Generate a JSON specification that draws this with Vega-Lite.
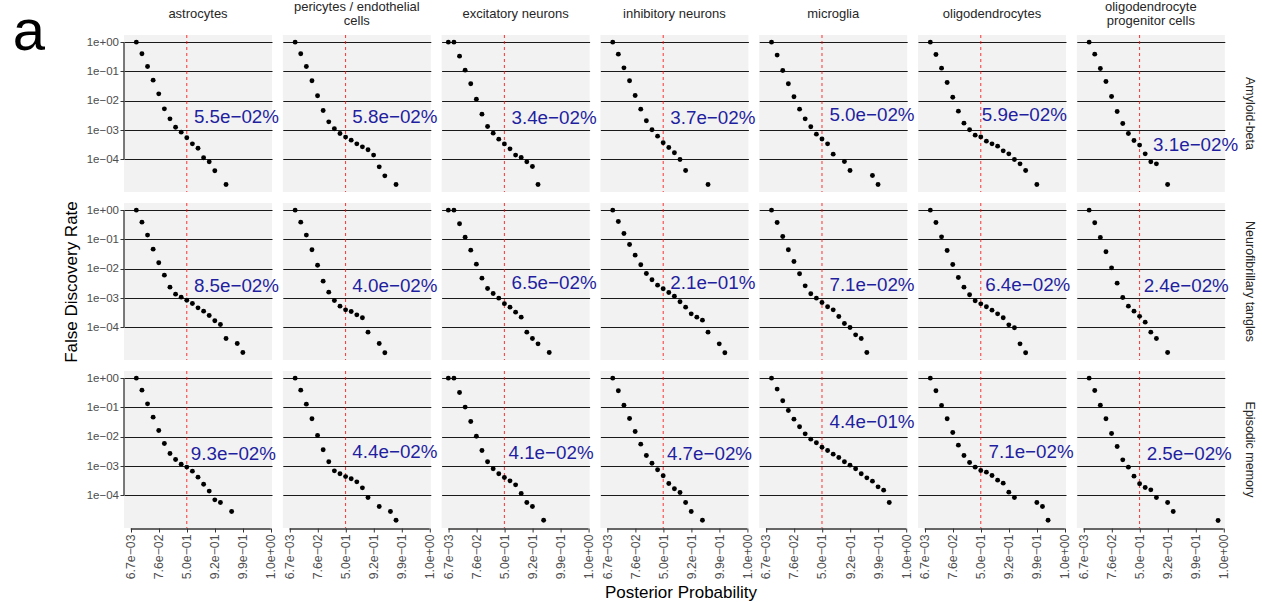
{
"$schema": "https://vega.github.io/schema/vega-lite/v6.json",
"background": "white",
"padding": {"left": 12, "top": 1, "right": 0, "bottom": 0},
"bounds": "flush",
"title": {"text": "a", "orient": "left", "anchor": "end", "angle": 0, "align": "left", "baseline": "top", "fontSize": 58, "fontWeight": "normal", "color": "black", "offset": 18, "dy": 3},
"data": {"values": [
{"kind":"pt","trait":"Amyloid-beta","cell":"astrocytes","lpp":-4.5,"fdr":1},
{"kind":"pt","trait":"Amyloid-beta","cell":"astrocytes","lpp":-4,"fdr":0.4},
{"kind":"pt","trait":"Amyloid-beta","cell":"astrocytes","lpp":-3.5,"fdr":0.148},
{"kind":"pt","trait":"Amyloid-beta","cell":"astrocytes","lpp":-3,"fdr":0.0507},
{"kind":"pt","trait":"Amyloid-beta","cell":"astrocytes","lpp":-2.5,"fdr":0.0173},
{"kind":"pt","trait":"Amyloid-beta","cell":"astrocytes","lpp":-2,"fdr":0.00533},
{"kind":"pt","trait":"Amyloid-beta","cell":"astrocytes","lpp":-1.5,"fdr":0.00243},
{"kind":"pt","trait":"Amyloid-beta","cell":"astrocytes","lpp":-1,"fdr":0.00126},
{"kind":"pt","trait":"Amyloid-beta","cell":"astrocytes","lpp":-0.5,"fdr":0.000855},
{"kind":"pt","trait":"Amyloid-beta","cell":"astrocytes","lpp":0,"fdr":0.000548},
{"kind":"pt","trait":"Amyloid-beta","cell":"astrocytes","lpp":0.5,"fdr":0.000342},
{"kind":"pt","trait":"Amyloid-beta","cell":"astrocytes","lpp":1,"fdr":0.000243},
{"kind":"pt","trait":"Amyloid-beta","cell":"astrocytes","lpp":1.5,"fdr":0.000114},
{"kind":"pt","trait":"Amyloid-beta","cell":"astrocytes","lpp":2,"fdr":0.0000832},
{"kind":"pt","trait":"Amyloid-beta","cell":"astrocytes","lpp":2.5,"fdr":0.0000411},
{"kind":"pt","trait":"Amyloid-beta","cell":"astrocytes","lpp":3.5,"fdr":0.0000141},
{"kind":"pt","trait":"Amyloid-beta","cell":"pericytes / endothelial cells","lpp":-4.5,"fdr":1},
{"kind":"pt","trait":"Amyloid-beta","cell":"pericytes / endothelial cells","lpp":-4,"fdr":0.4},
{"kind":"pt","trait":"Amyloid-beta","cell":"pericytes / endothelial cells","lpp":-3.5,"fdr":0.148},
{"kind":"pt","trait":"Amyloid-beta","cell":"pericytes / endothelial cells","lpp":-3,"fdr":0.0481},
{"kind":"pt","trait":"Amyloid-beta","cell":"pericytes / endothelial cells","lpp":-2.5,"fdr":0.0148},
{"kind":"pt","trait":"Amyloid-beta","cell":"pericytes / endothelial cells","lpp":-2,"fdr":0.00468},
{"kind":"pt","trait":"Amyloid-beta","cell":"pericytes / endothelial cells","lpp":-1.5,"fdr":0.00192},
{"kind":"pt","trait":"Amyloid-beta","cell":"pericytes / endothelial cells","lpp":-1,"fdr":0.00111},
{"kind":"pt","trait":"Amyloid-beta","cell":"pericytes / endothelial cells","lpp":-0.5,"fdr":0.000769},
{"kind":"pt","trait":"Amyloid-beta","cell":"pericytes / endothelial cells","lpp":0,"fdr":0.00058},
{"kind":"pt","trait":"Amyloid-beta","cell":"pericytes / endothelial cells","lpp":0.5,"fdr":0.000456},
{"kind":"pt","trait":"Amyloid-beta","cell":"pericytes / endothelial cells","lpp":1,"fdr":0.000342},
{"kind":"pt","trait":"Amyloid-beta","cell":"pericytes / endothelial cells","lpp":1.5,"fdr":0.00027},
{"kind":"pt","trait":"Amyloid-beta","cell":"pericytes / endothelial cells","lpp":2,"fdr":0.000214},
{"kind":"pt","trait":"Amyloid-beta","cell":"pericytes / endothelial cells","lpp":2.5,"fdr":0.000141},
{"kind":"pt","trait":"Amyloid-beta","cell":"pericytes / endothelial cells","lpp":3,"fdr":0.0000562},
{"kind":"pt","trait":"Amyloid-beta","cell":"pericytes / endothelial cells","lpp":3.5,"fdr":0.0000277},
{"kind":"pt","trait":"Amyloid-beta","cell":"pericytes / endothelial cells","lpp":4.5,"fdr":0.0000141},
{"kind":"pt","trait":"Amyloid-beta","cell":"excitatory neurons","lpp":-5,"fdr":1},
{"kind":"pt","trait":"Amyloid-beta","cell":"excitatory neurons","lpp":-4.5,"fdr":1},
{"kind":"pt","trait":"Amyloid-beta","cell":"excitatory neurons","lpp":-4,"fdr":0.333},
{"kind":"pt","trait":"Amyloid-beta","cell":"excitatory neurons","lpp":-3.5,"fdr":0.111},
{"kind":"pt","trait":"Amyloid-beta","cell":"excitatory neurons","lpp":-3,"fdr":0.038},
{"kind":"pt","trait":"Amyloid-beta","cell":"excitatory neurons","lpp":-2.5,"fdr":0.0114},
{"kind":"pt","trait":"Amyloid-beta","cell":"excitatory neurons","lpp":-2,"fdr":0.00351},
{"kind":"pt","trait":"Amyloid-beta","cell":"excitatory neurons","lpp":-1.5,"fdr":0.00133},
{"kind":"pt","trait":"Amyloid-beta","cell":"excitatory neurons","lpp":-1,"fdr":0.000791},
{"kind":"pt","trait":"Amyloid-beta","cell":"excitatory neurons","lpp":-0.5,"fdr":0.000493},
{"kind":"pt","trait":"Amyloid-beta","cell":"excitatory neurons","lpp":0,"fdr":0.00034},
{"kind":"pt","trait":"Amyloid-beta","cell":"excitatory neurons","lpp":0.5,"fdr":0.000231},
{"kind":"pt","trait":"Amyloid-beta","cell":"excitatory neurons","lpp":1,"fdr":0.000141},
{"kind":"pt","trait":"Amyloid-beta","cell":"excitatory neurons","lpp":1.5,"fdr":0.000117},
{"kind":"pt","trait":"Amyloid-beta","cell":"excitatory neurons","lpp":2,"fdr":0.0000832},
{"kind":"pt","trait":"Amyloid-beta","cell":"excitatory neurons","lpp":2.5,"fdr":0.0000577},
{"kind":"pt","trait":"Amyloid-beta","cell":"excitatory neurons","lpp":3,"fdr":0.0000141},
{"kind":"pt","trait":"Amyloid-beta","cell":"inhibitory neurons","lpp":-4.5,"fdr":1},
{"kind":"pt","trait":"Amyloid-beta","cell":"inhibitory neurons","lpp":-4,"fdr":0.39},
{"kind":"pt","trait":"Amyloid-beta","cell":"inhibitory neurons","lpp":-3.5,"fdr":0.133},
{"kind":"pt","trait":"Amyloid-beta","cell":"inhibitory neurons","lpp":-3,"fdr":0.0481},
{"kind":"pt","trait":"Amyloid-beta","cell":"inhibitory neurons","lpp":-2.5,"fdr":0.0152},
{"kind":"pt","trait":"Amyloid-beta","cell":"inhibitory neurons","lpp":-2,"fdr":0.0052},
{"kind":"pt","trait":"Amyloid-beta","cell":"inhibitory neurons","lpp":-1.5,"fdr":0.00208},
{"kind":"pt","trait":"Amyloid-beta","cell":"inhibitory neurons","lpp":-1,"fdr":0.00103},
{"kind":"pt","trait":"Amyloid-beta","cell":"inhibitory neurons","lpp":-0.5,"fdr":0.000624},
{"kind":"pt","trait":"Amyloid-beta","cell":"inhibitory neurons","lpp":0,"fdr":0.00037},
{"kind":"pt","trait":"Amyloid-beta","cell":"inhibitory neurons","lpp":0.5,"fdr":0.000256},
{"kind":"pt","trait":"Amyloid-beta","cell":"inhibitory neurons","lpp":1,"fdr":0.000169},
{"kind":"pt","trait":"Amyloid-beta","cell":"inhibitory neurons","lpp":1.5,"fdr":0.0001},
{"kind":"pt","trait":"Amyloid-beta","cell":"inhibitory neurons","lpp":2,"fdr":0.0000422},
{"kind":"pt","trait":"Amyloid-beta","cell":"inhibitory neurons","lpp":4,"fdr":0.0000141},
{"kind":"pt","trait":"Amyloid-beta","cell":"microglia","lpp":-4.5,"fdr":1},
{"kind":"pt","trait":"Amyloid-beta","cell":"microglia","lpp":-4,"fdr":0.361},
{"kind":"pt","trait":"Amyloid-beta","cell":"microglia","lpp":-3.5,"fdr":0.108},
{"kind":"pt","trait":"Amyloid-beta","cell":"microglia","lpp":-3,"fdr":0.038},
{"kind":"pt","trait":"Amyloid-beta","cell":"microglia","lpp":-2.5,"fdr":0.0137},
{"kind":"pt","trait":"Amyloid-beta","cell":"microglia","lpp":-2,"fdr":0.0052},
{"kind":"pt","trait":"Amyloid-beta","cell":"microglia","lpp":-1.5,"fdr":0.00243},
{"kind":"pt","trait":"Amyloid-beta","cell":"microglia","lpp":-1,"fdr":0.0013},
{"kind":"pt","trait":"Amyloid-beta","cell":"microglia","lpp":-0.5,"fdr":0.000731},
{"kind":"pt","trait":"Amyloid-beta","cell":"microglia","lpp":0,"fdr":0.0005},
{"kind":"pt","trait":"Amyloid-beta","cell":"microglia","lpp":0.5,"fdr":0.000342},
{"kind":"pt","trait":"Amyloid-beta","cell":"microglia","lpp":1,"fdr":0.000152},
{"kind":"pt","trait":"Amyloid-beta","cell":"microglia","lpp":2,"fdr":0.0000855},
{"kind":"pt","trait":"Amyloid-beta","cell":"microglia","lpp":2.5,"fdr":0.0000422},
{"kind":"pt","trait":"Amyloid-beta","cell":"microglia","lpp":4.5,"fdr":0.0000285},
{"kind":"pt","trait":"Amyloid-beta","cell":"microglia","lpp":5,"fdr":0.0000141},
{"kind":"pt","trait":"Amyloid-beta","cell":"oligodendrocytes","lpp":-4.5,"fdr":1},
{"kind":"pt","trait":"Amyloid-beta","cell":"oligodendrocytes","lpp":-4,"fdr":0.38},
{"kind":"pt","trait":"Amyloid-beta","cell":"oligodendrocytes","lpp":-3.5,"fdr":0.13},
{"kind":"pt","trait":"Amyloid-beta","cell":"oligodendrocytes","lpp":-3,"fdr":0.0422},
{"kind":"pt","trait":"Amyloid-beta","cell":"oligodendrocytes","lpp":-2.5,"fdr":0.0133},
{"kind":"pt","trait":"Amyloid-beta","cell":"oligodendrocytes","lpp":-2,"fdr":0.00445},
{"kind":"pt","trait":"Amyloid-beta","cell":"oligodendrocytes","lpp":-1.5,"fdr":0.00173},
{"kind":"pt","trait":"Amyloid-beta","cell":"oligodendrocytes","lpp":-1,"fdr":0.00103},
{"kind":"pt","trait":"Amyloid-beta","cell":"oligodendrocytes","lpp":-0.5,"fdr":0.000676},
{"kind":"pt","trait":"Amyloid-beta","cell":"oligodendrocytes","lpp":0,"fdr":0.00059},
{"kind":"pt","trait":"Amyloid-beta","cell":"oligodendrocytes","lpp":0.5,"fdr":0.000422},
{"kind":"pt","trait":"Amyloid-beta","cell":"oligodendrocytes","lpp":1,"fdr":0.000342},
{"kind":"pt","trait":"Amyloid-beta","cell":"oligodendrocytes","lpp":1.5,"fdr":0.000285},
{"kind":"pt","trait":"Amyloid-beta","cell":"oligodendrocytes","lpp":2,"fdr":0.000197},
{"kind":"pt","trait":"Amyloid-beta","cell":"oligodendrocytes","lpp":2.5,"fdr":0.000156},
{"kind":"pt","trait":"Amyloid-beta","cell":"oligodendrocytes","lpp":3,"fdr":0.0001},
{"kind":"pt","trait":"Amyloid-beta","cell":"oligodendrocytes","lpp":3.5,"fdr":0.0000711},
{"kind":"pt","trait":"Amyloid-beta","cell":"oligodendrocytes","lpp":4,"fdr":0.0000422},
{"kind":"pt","trait":"Amyloid-beta","cell":"oligodendrocytes","lpp":5,"fdr":0.0000141},
{"kind":"pt","trait":"Amyloid-beta","cell":"oligodendrocyte progenitor cells","lpp":-4.5,"fdr":1},
{"kind":"pt","trait":"Amyloid-beta","cell":"oligodendrocyte progenitor cells","lpp":-4,"fdr":0.39},
{"kind":"pt","trait":"Amyloid-beta","cell":"oligodendrocyte progenitor cells","lpp":-3.5,"fdr":0.126},
{"kind":"pt","trait":"Amyloid-beta","cell":"oligodendrocyte progenitor cells","lpp":-3,"fdr":0.0456},
{"kind":"pt","trait":"Amyloid-beta","cell":"oligodendrocyte progenitor cells","lpp":-2.5,"fdr":0.0141},
{"kind":"pt","trait":"Amyloid-beta","cell":"oligodendrocyte progenitor cells","lpp":-2,"fdr":0.00433},
{"kind":"pt","trait":"Amyloid-beta","cell":"oligodendrocyte progenitor cells","lpp":-1.5,"fdr":0.00169},
{"kind":"pt","trait":"Amyloid-beta","cell":"oligodendrocyte progenitor cells","lpp":-1,"fdr":0.000769},
{"kind":"pt","trait":"Amyloid-beta","cell":"oligodendrocyte progenitor cells","lpp":-0.5,"fdr":0.000445},
{"kind":"pt","trait":"Amyloid-beta","cell":"oligodendrocyte progenitor cells","lpp":0,"fdr":0.00031},
{"kind":"pt","trait":"Amyloid-beta","cell":"oligodendrocyte progenitor cells","lpp":0.5,"fdr":0.000156},
{"kind":"pt","trait":"Amyloid-beta","cell":"oligodendrocyte progenitor cells","lpp":1,"fdr":0.0000832},
{"kind":"pt","trait":"Amyloid-beta","cell":"oligodendrocyte progenitor cells","lpp":1.5,"fdr":0.0000711},
{"kind":"pt","trait":"Amyloid-beta","cell":"oligodendrocyte progenitor cells","lpp":2.5,"fdr":0.0000141},
{"kind":"pt","trait":"Neurofibrillary tangles","cell":"astrocytes","lpp":-4.5,"fdr":1},
{"kind":"pt","trait":"Neurofibrillary tangles","cell":"astrocytes","lpp":-4,"fdr":0.39},
{"kind":"pt","trait":"Neurofibrillary tangles","cell":"astrocytes","lpp":-3.5,"fdr":0.141},
{"kind":"pt","trait":"Neurofibrillary tangles","cell":"astrocytes","lpp":-3,"fdr":0.0468},
{"kind":"pt","trait":"Neurofibrillary tangles","cell":"astrocytes","lpp":-2.5,"fdr":0.016},
{"kind":"pt","trait":"Neurofibrillary tangles","cell":"astrocytes","lpp":-2,"fdr":0.00608},
{"kind":"pt","trait":"Neurofibrillary tangles","cell":"astrocytes","lpp":-1.5,"fdr":0.00237},
{"kind":"pt","trait":"Neurofibrillary tangles","cell":"astrocytes","lpp":-1,"fdr":0.00137},
{"kind":"pt","trait":"Neurofibrillary tangles","cell":"astrocytes","lpp":-0.5,"fdr":0.00108},
{"kind":"pt","trait":"Neurofibrillary tangles","cell":"astrocytes","lpp":0,"fdr":0.00085},
{"kind":"pt","trait":"Neurofibrillary tangles","cell":"astrocytes","lpp":0.5,"fdr":0.000658},
{"kind":"pt","trait":"Neurofibrillary tangles","cell":"astrocytes","lpp":1,"fdr":0.000468},
{"kind":"pt","trait":"Neurofibrillary tangles","cell":"astrocytes","lpp":1.5,"fdr":0.000361},
{"kind":"pt","trait":"Neurofibrillary tangles","cell":"astrocytes","lpp":2,"fdr":0.000256},
{"kind":"pt","trait":"Neurofibrillary tangles","cell":"astrocytes","lpp":2.5,"fdr":0.000169},
{"kind":"pt","trait":"Neurofibrillary tangles","cell":"astrocytes","lpp":3,"fdr":0.000126},
{"kind":"pt","trait":"Neurofibrillary tangles","cell":"astrocytes","lpp":3.5,"fdr":0.0000422},
{"kind":"pt","trait":"Neurofibrillary tangles","cell":"astrocytes","lpp":4.5,"fdr":0.0000285},
{"kind":"pt","trait":"Neurofibrillary tangles","cell":"astrocytes","lpp":5,"fdr":0.0000141},
{"kind":"pt","trait":"Neurofibrillary tangles","cell":"pericytes / endothelial cells","lpp":-4.5,"fdr":1},
{"kind":"pt","trait":"Neurofibrillary tangles","cell":"pericytes / endothelial cells","lpp":-4,"fdr":0.39},
{"kind":"pt","trait":"Neurofibrillary tangles","cell":"pericytes / endothelial cells","lpp":-3.5,"fdr":0.141},
{"kind":"pt","trait":"Neurofibrillary tangles","cell":"pericytes / endothelial cells","lpp":-3,"fdr":0.0445},
{"kind":"pt","trait":"Neurofibrillary tangles","cell":"pericytes / endothelial cells","lpp":-2.5,"fdr":0.0133},
{"kind":"pt","trait":"Neurofibrillary tangles","cell":"pericytes / endothelial cells","lpp":-2,"fdr":0.0038},
{"kind":"pt","trait":"Neurofibrillary tangles","cell":"pericytes / endothelial cells","lpp":-1.5,"fdr":0.0016},
{"kind":"pt","trait":"Neurofibrillary tangles","cell":"pericytes / endothelial cells","lpp":-1,"fdr":0.000832},
{"kind":"pt","trait":"Neurofibrillary tangles","cell":"pericytes / endothelial cells","lpp":-0.5,"fdr":0.000533},
{"kind":"pt","trait":"Neurofibrillary tangles","cell":"pericytes / endothelial cells","lpp":0,"fdr":0.0004},
{"kind":"pt","trait":"Neurofibrillary tangles","cell":"pericytes / endothelial cells","lpp":0.5,"fdr":0.000351},
{"kind":"pt","trait":"Neurofibrillary tangles","cell":"pericytes / endothelial cells","lpp":1,"fdr":0.00027},
{"kind":"pt","trait":"Neurofibrillary tangles","cell":"pericytes / endothelial cells","lpp":1.5,"fdr":0.000214},
{"kind":"pt","trait":"Neurofibrillary tangles","cell":"pericytes / endothelial cells","lpp":2,"fdr":0.0000693},
{"kind":"pt","trait":"Neurofibrillary tangles","cell":"pericytes / endothelial cells","lpp":3,"fdr":0.0000285},
{"kind":"pt","trait":"Neurofibrillary tangles","cell":"pericytes / endothelial cells","lpp":3.5,"fdr":0.0000137},
{"kind":"pt","trait":"Neurofibrillary tangles","cell":"excitatory neurons","lpp":-5,"fdr":1},
{"kind":"pt","trait":"Neurofibrillary tangles","cell":"excitatory neurons","lpp":-4.5,"fdr":1},
{"kind":"pt","trait":"Neurofibrillary tangles","cell":"excitatory neurons","lpp":-4,"fdr":0.342},
{"kind":"pt","trait":"Neurofibrillary tangles","cell":"excitatory neurons","lpp":-3.5,"fdr":0.12},
{"kind":"pt","trait":"Neurofibrillary tangles","cell":"excitatory neurons","lpp":-3,"fdr":0.0433},
{"kind":"pt","trait":"Neurofibrillary tangles","cell":"excitatory neurons","lpp":-2.5,"fdr":0.0144},
{"kind":"pt","trait":"Neurofibrillary tangles","cell":"excitatory neurons","lpp":-2,"fdr":0.00481},
{"kind":"pt","trait":"Neurofibrillary tangles","cell":"excitatory neurons","lpp":-1.5,"fdr":0.00214},
{"kind":"pt","trait":"Neurofibrillary tangles","cell":"excitatory neurons","lpp":-1,"fdr":0.00144},
{"kind":"pt","trait":"Neurofibrillary tangles","cell":"excitatory neurons","lpp":-0.5,"fdr":0.001},
{"kind":"pt","trait":"Neurofibrillary tangles","cell":"excitatory neurons","lpp":0,"fdr":0.00065},
{"kind":"pt","trait":"Neurofibrillary tangles","cell":"excitatory neurons","lpp":0.5,"fdr":0.000493},
{"kind":"pt","trait":"Neurofibrillary tangles","cell":"excitatory neurons","lpp":1,"fdr":0.000333},
{"kind":"pt","trait":"Neurofibrillary tangles","cell":"excitatory neurons","lpp":1.5,"fdr":0.000225},
{"kind":"pt","trait":"Neurofibrillary tangles","cell":"excitatory neurons","lpp":2,"fdr":0.0000693},
{"kind":"pt","trait":"Neurofibrillary tangles","cell":"excitatory neurons","lpp":2.5,"fdr":0.0000422},
{"kind":"pt","trait":"Neurofibrillary tangles","cell":"excitatory neurons","lpp":3,"fdr":0.0000277},
{"kind":"pt","trait":"Neurofibrillary tangles","cell":"excitatory neurons","lpp":4,"fdr":0.0000141},
{"kind":"pt","trait":"Neurofibrillary tangles","cell":"inhibitory neurons","lpp":-4.5,"fdr":1},
{"kind":"pt","trait":"Neurofibrillary tangles","cell":"inhibitory neurons","lpp":-4,"fdr":0.411},
{"kind":"pt","trait":"Neurofibrillary tangles","cell":"inhibitory neurons","lpp":-3.5,"fdr":0.16},
{"kind":"pt","trait":"Neurofibrillary tangles","cell":"inhibitory neurons","lpp":-3,"fdr":0.0676},
{"kind":"pt","trait":"Neurofibrillary tangles","cell":"inhibitory neurons","lpp":-2.5,"fdr":0.0292},
{"kind":"pt","trait":"Neurofibrillary tangles","cell":"inhibitory neurons","lpp":-2,"fdr":0.0137},
{"kind":"pt","trait":"Neurofibrillary tangles","cell":"inhibitory neurons","lpp":-1.5,"fdr":0.00693},
{"kind":"pt","trait":"Neurofibrillary tangles","cell":"inhibitory neurons","lpp":-1,"fdr":0.00422},
{"kind":"pt","trait":"Neurofibrillary tangles","cell":"inhibitory neurons","lpp":-0.5,"fdr":0.00277},
{"kind":"pt","trait":"Neurofibrillary tangles","cell":"inhibitory neurons","lpp":0,"fdr":0.0021},
{"kind":"pt","trait":"Neurofibrillary tangles","cell":"inhibitory neurons","lpp":0.5,"fdr":0.00156},
{"kind":"pt","trait":"Neurofibrillary tangles","cell":"inhibitory neurons","lpp":1,"fdr":0.00117},
{"kind":"pt","trait":"Neurofibrillary tangles","cell":"inhibitory neurons","lpp":1.5,"fdr":0.00075},
{"kind":"pt","trait":"Neurofibrillary tangles","cell":"inhibitory neurons","lpp":2,"fdr":0.000493},
{"kind":"pt","trait":"Neurofibrillary tangles","cell":"inhibitory neurons","lpp":2.5,"fdr":0.000292},
{"kind":"pt","trait":"Neurofibrillary tangles","cell":"inhibitory neurons","lpp":3,"fdr":0.000225},
{"kind":"pt","trait":"Neurofibrillary tangles","cell":"inhibitory neurons","lpp":3.5,"fdr":0.000178},
{"kind":"pt","trait":"Neurofibrillary tangles","cell":"inhibitory neurons","lpp":4,"fdr":0.0000693},
{"kind":"pt","trait":"Neurofibrillary tangles","cell":"inhibitory neurons","lpp":5,"fdr":0.0000277},
{"kind":"pt","trait":"Neurofibrillary tangles","cell":"inhibitory neurons","lpp":5.5,"fdr":0.0000137},
{"kind":"pt","trait":"Neurofibrillary tangles","cell":"microglia","lpp":-4.5,"fdr":1},
{"kind":"pt","trait":"Neurofibrillary tangles","cell":"microglia","lpp":-4,"fdr":0.38},
{"kind":"pt","trait":"Neurofibrillary tangles","cell":"microglia","lpp":-3.5,"fdr":0.126},
{"kind":"pt","trait":"Neurofibrillary tangles","cell":"microglia","lpp":-3,"fdr":0.0445},
{"kind":"pt","trait":"Neurofibrillary tangles","cell":"microglia","lpp":-2.5,"fdr":0.0178},
{"kind":"pt","trait":"Neurofibrillary tangles","cell":"microglia","lpp":-2,"fdr":0.00676},
{"kind":"pt","trait":"Neurofibrillary tangles","cell":"microglia","lpp":-1.5,"fdr":0.00263},
{"kind":"pt","trait":"Neurofibrillary tangles","cell":"microglia","lpp":-1,"fdr":0.00141},
{"kind":"pt","trait":"Neurofibrillary tangles","cell":"microglia","lpp":-0.5,"fdr":0.001},
{"kind":"pt","trait":"Neurofibrillary tangles","cell":"microglia","lpp":0,"fdr":0.00071},
{"kind":"pt","trait":"Neurofibrillary tangles","cell":"microglia","lpp":0.5,"fdr":0.000507},
{"kind":"pt","trait":"Neurofibrillary tangles","cell":"microglia","lpp":1,"fdr":0.0004},
{"kind":"pt","trait":"Neurofibrillary tangles","cell":"microglia","lpp":1.5,"fdr":0.000237},
{"kind":"pt","trait":"Neurofibrillary tangles","cell":"microglia","lpp":2,"fdr":0.000137},
{"kind":"pt","trait":"Neurofibrillary tangles","cell":"microglia","lpp":2.5,"fdr":0.0001},
{"kind":"pt","trait":"Neurofibrillary tangles","cell":"microglia","lpp":3,"fdr":0.0000562},
{"kind":"pt","trait":"Neurofibrillary tangles","cell":"microglia","lpp":3.5,"fdr":0.0000422},
{"kind":"pt","trait":"Neurofibrillary tangles","cell":"microglia","lpp":4,"fdr":0.0000141},
{"kind":"pt","trait":"Neurofibrillary tangles","cell":"oligodendrocytes","lpp":-4.5,"fdr":1},
{"kind":"pt","trait":"Neurofibrillary tangles","cell":"oligodendrocytes","lpp":-4,"fdr":0.38},
{"kind":"pt","trait":"Neurofibrillary tangles","cell":"oligodendrocytes","lpp":-3.5,"fdr":0.123},
{"kind":"pt","trait":"Neurofibrillary tangles","cell":"oligodendrocytes","lpp":-3,"fdr":0.0422},
{"kind":"pt","trait":"Neurofibrillary tangles","cell":"oligodendrocytes","lpp":-2.5,"fdr":0.0141},
{"kind":"pt","trait":"Neurofibrillary tangles","cell":"oligodendrocytes","lpp":-2,"fdr":0.00507},
{"kind":"pt","trait":"Neurofibrillary tangles","cell":"oligodendrocytes","lpp":-1.5,"fdr":0.00237},
{"kind":"pt","trait":"Neurofibrillary tangles","cell":"oligodendrocytes","lpp":-1,"fdr":0.0013},
{"kind":"pt","trait":"Neurofibrillary tangles","cell":"oligodendrocytes","lpp":-0.5,"fdr":0.000811},
{"kind":"pt","trait":"Neurofibrillary tangles","cell":"oligodendrocytes","lpp":0,"fdr":0.00064},
{"kind":"pt","trait":"Neurofibrillary tangles","cell":"oligodendrocytes","lpp":0.5,"fdr":0.000507},
{"kind":"pt","trait":"Neurofibrillary tangles","cell":"oligodendrocytes","lpp":1,"fdr":0.00039},
{"kind":"pt","trait":"Neurofibrillary tangles","cell":"oligodendrocytes","lpp":1.5,"fdr":0.000292},
{"kind":"pt","trait":"Neurofibrillary tangles","cell":"oligodendrocytes","lpp":2,"fdr":0.000214},
{"kind":"pt","trait":"Neurofibrillary tangles","cell":"oligodendrocytes","lpp":2.5,"fdr":0.000123},
{"kind":"pt","trait":"Neurofibrillary tangles","cell":"oligodendrocytes","lpp":3,"fdr":0.0000975},
{"kind":"pt","trait":"Neurofibrillary tangles","cell":"oligodendrocytes","lpp":3.5,"fdr":0.0000277},
{"kind":"pt","trait":"Neurofibrillary tangles","cell":"oligodendrocytes","lpp":4,"fdr":0.0000137},
{"kind":"pt","trait":"Neurofibrillary tangles","cell":"oligodendrocyte progenitor cells","lpp":-4.5,"fdr":1},
{"kind":"pt","trait":"Neurofibrillary tangles","cell":"oligodendrocyte progenitor cells","lpp":-4,"fdr":0.37},
{"kind":"pt","trait":"Neurofibrillary tangles","cell":"oligodendrocyte progenitor cells","lpp":-3.5,"fdr":0.117},
{"kind":"pt","trait":"Neurofibrillary tangles","cell":"oligodendrocyte progenitor cells","lpp":-3,"fdr":0.038},
{"kind":"pt","trait":"Neurofibrillary tangles","cell":"oligodendrocyte progenitor cells","lpp":-2.5,"fdr":0.0108},
{"kind":"pt","trait":"Neurofibrillary tangles","cell":"oligodendrocyte progenitor cells","lpp":-2,"fdr":0.00324},
{"kind":"pt","trait":"Neurofibrillary tangles","cell":"oligodendrocyte progenitor cells","lpp":-1.5,"fdr":0.00105},
{"kind":"pt","trait":"Neurofibrillary tangles","cell":"oligodendrocyte progenitor cells","lpp":-1,"fdr":0.000533},
{"kind":"pt","trait":"Neurofibrillary tangles","cell":"oligodendrocyte progenitor cells","lpp":-0.5,"fdr":0.000361},
{"kind":"pt","trait":"Neurofibrillary tangles","cell":"oligodendrocyte progenitor cells","lpp":0,"fdr":0.00024},
{"kind":"pt","trait":"Neurofibrillary tangles","cell":"oligodendrocyte progenitor cells","lpp":0.5,"fdr":0.000152},
{"kind":"pt","trait":"Neurofibrillary tangles","cell":"oligodendrocyte progenitor cells","lpp":1,"fdr":0.0000693},
{"kind":"pt","trait":"Neurofibrillary tangles","cell":"oligodendrocyte progenitor cells","lpp":1.5,"fdr":0.0000422},
{"kind":"pt","trait":"Neurofibrillary tangles","cell":"oligodendrocyte progenitor cells","lpp":2.5,"fdr":0.0000141},
{"kind":"pt","trait":"Episodic memory","cell":"astrocytes","lpp":-4.5,"fdr":1},
{"kind":"pt","trait":"Episodic memory","cell":"astrocytes","lpp":-4,"fdr":0.39},
{"kind":"pt","trait":"Episodic memory","cell":"astrocytes","lpp":-3.5,"fdr":0.133},
{"kind":"pt","trait":"Episodic memory","cell":"astrocytes","lpp":-3,"fdr":0.0468},
{"kind":"pt","trait":"Episodic memory","cell":"astrocytes","lpp":-2.5,"fdr":0.0164},
{"kind":"pt","trait":"Episodic memory","cell":"astrocytes","lpp":-2,"fdr":0.00593},
{"kind":"pt","trait":"Episodic memory","cell":"astrocytes","lpp":-1.5,"fdr":0.0027},
{"kind":"pt","trait":"Episodic memory","cell":"astrocytes","lpp":-1,"fdr":0.00169},
{"kind":"pt","trait":"Episodic memory","cell":"astrocytes","lpp":-0.5,"fdr":0.00117},
{"kind":"pt","trait":"Episodic memory","cell":"astrocytes","lpp":0,"fdr":0.00093},
{"kind":"pt","trait":"Episodic memory","cell":"astrocytes","lpp":0.5,"fdr":0.000676},
{"kind":"pt","trait":"Episodic memory","cell":"astrocytes","lpp":1,"fdr":0.000422},
{"kind":"pt","trait":"Episodic memory","cell":"astrocytes","lpp":1.5,"fdr":0.000243},
{"kind":"pt","trait":"Episodic memory","cell":"astrocytes","lpp":2,"fdr":0.000141},
{"kind":"pt","trait":"Episodic memory","cell":"astrocytes","lpp":2.5,"fdr":0.0000711},
{"kind":"pt","trait":"Episodic memory","cell":"astrocytes","lpp":3,"fdr":0.0000577},
{"kind":"pt","trait":"Episodic memory","cell":"astrocytes","lpp":4,"fdr":0.0000285},
{"kind":"pt","trait":"Episodic memory","cell":"pericytes / endothelial cells","lpp":-4.5,"fdr":1},
{"kind":"pt","trait":"Episodic memory","cell":"pericytes / endothelial cells","lpp":-4,"fdr":0.39},
{"kind":"pt","trait":"Episodic memory","cell":"pericytes / endothelial cells","lpp":-3.5,"fdr":0.13},
{"kind":"pt","trait":"Episodic memory","cell":"pericytes / endothelial cells","lpp":-3,"fdr":0.0411},
{"kind":"pt","trait":"Episodic memory","cell":"pericytes / endothelial cells","lpp":-2.5,"fdr":0.0111},
{"kind":"pt","trait":"Episodic memory","cell":"pericytes / endothelial cells","lpp":-2,"fdr":0.00361},
{"kind":"pt","trait":"Episodic memory","cell":"pericytes / endothelial cells","lpp":-1.5,"fdr":0.00141},
{"kind":"pt","trait":"Episodic memory","cell":"pericytes / endothelial cells","lpp":-1,"fdr":0.000693},
{"kind":"pt","trait":"Episodic memory","cell":"pericytes / endothelial cells","lpp":-0.5,"fdr":0.000548},
{"kind":"pt","trait":"Episodic memory","cell":"pericytes / endothelial cells","lpp":0,"fdr":0.00044},
{"kind":"pt","trait":"Episodic memory","cell":"pericytes / endothelial cells","lpp":0.5,"fdr":0.00037},
{"kind":"pt","trait":"Episodic memory","cell":"pericytes / endothelial cells","lpp":1,"fdr":0.000292},
{"kind":"pt","trait":"Episodic memory","cell":"pericytes / endothelial cells","lpp":1.5,"fdr":0.000182},
{"kind":"pt","trait":"Episodic memory","cell":"pericytes / endothelial cells","lpp":2,"fdr":0.0000855},
{"kind":"pt","trait":"Episodic memory","cell":"pericytes / endothelial cells","lpp":3,"fdr":0.0000422},
{"kind":"pt","trait":"Episodic memory","cell":"pericytes / endothelial cells","lpp":4,"fdr":0.0000285},
{"kind":"pt","trait":"Episodic memory","cell":"pericytes / endothelial cells","lpp":4.5,"fdr":0.0000144},
{"kind":"pt","trait":"Episodic memory","cell":"excitatory neurons","lpp":-5,"fdr":1},
{"kind":"pt","trait":"Episodic memory","cell":"excitatory neurons","lpp":-4.5,"fdr":1},
{"kind":"pt","trait":"Episodic memory","cell":"excitatory neurons","lpp":-4,"fdr":0.324},
{"kind":"pt","trait":"Episodic memory","cell":"excitatory neurons","lpp":-3.5,"fdr":0.103},
{"kind":"pt","trait":"Episodic memory","cell":"excitatory neurons","lpp":-3,"fdr":0.0333},
{"kind":"pt","trait":"Episodic memory","cell":"excitatory neurons","lpp":-2.5,"fdr":0.0105},
{"kind":"pt","trait":"Episodic memory","cell":"excitatory neurons","lpp":-2,"fdr":0.00342},
{"kind":"pt","trait":"Episodic memory","cell":"excitatory neurons","lpp":-1.5,"fdr":0.00141},
{"kind":"pt","trait":"Episodic memory","cell":"excitatory neurons","lpp":-1,"fdr":0.000811},
{"kind":"pt","trait":"Episodic memory","cell":"excitatory neurons","lpp":-0.5,"fdr":0.000548},
{"kind":"pt","trait":"Episodic memory","cell":"excitatory neurons","lpp":0,"fdr":0.00041},
{"kind":"pt","trait":"Episodic memory","cell":"excitatory neurons","lpp":0.5,"fdr":0.000316},
{"kind":"pt","trait":"Episodic memory","cell":"excitatory neurons","lpp":1,"fdr":0.000231},
{"kind":"pt","trait":"Episodic memory","cell":"excitatory neurons","lpp":1.5,"fdr":0.000117},
{"kind":"pt","trait":"Episodic memory","cell":"excitatory neurons","lpp":2,"fdr":0.0000577},
{"kind":"pt","trait":"Episodic memory","cell":"excitatory neurons","lpp":2.5,"fdr":0.0000422},
{"kind":"pt","trait":"Episodic memory","cell":"excitatory neurons","lpp":3.5,"fdr":0.0000144},
{"kind":"pt","trait":"Episodic memory","cell":"inhibitory neurons","lpp":-4.5,"fdr":1},
{"kind":"pt","trait":"Episodic memory","cell":"inhibitory neurons","lpp":-4,"fdr":0.37},
{"kind":"pt","trait":"Episodic memory","cell":"inhibitory neurons","lpp":-3.5,"fdr":0.12},
{"kind":"pt","trait":"Episodic memory","cell":"inhibitory neurons","lpp":-3,"fdr":0.0422},
{"kind":"pt","trait":"Episodic memory","cell":"inhibitory neurons","lpp":-2.5,"fdr":0.0152},
{"kind":"pt","trait":"Episodic memory","cell":"inhibitory neurons","lpp":-2,"fdr":0.00562},
{"kind":"pt","trait":"Episodic memory","cell":"inhibitory neurons","lpp":-1.5,"fdr":0.00231},
{"kind":"pt","trait":"Episodic memory","cell":"inhibitory neurons","lpp":-1,"fdr":0.00126},
{"kind":"pt","trait":"Episodic memory","cell":"inhibitory neurons","lpp":-0.5,"fdr":0.00075},
{"kind":"pt","trait":"Episodic memory","cell":"inhibitory neurons","lpp":0,"fdr":0.00047},
{"kind":"pt","trait":"Episodic memory","cell":"inhibitory neurons","lpp":0.5,"fdr":0.000256},
{"kind":"pt","trait":"Episodic memory","cell":"inhibitory neurons","lpp":1,"fdr":0.000169},
{"kind":"pt","trait":"Episodic memory","cell":"inhibitory neurons","lpp":1.5,"fdr":0.000126},
{"kind":"pt","trait":"Episodic memory","cell":"inhibitory neurons","lpp":2,"fdr":0.0000577},
{"kind":"pt","trait":"Episodic memory","cell":"inhibitory neurons","lpp":2.5,"fdr":0.0000285},
{"kind":"pt","trait":"Episodic memory","cell":"inhibitory neurons","lpp":3.5,"fdr":0.0000144},
{"kind":"pt","trait":"Episodic memory","cell":"microglia","lpp":-4.5,"fdr":1},
{"kind":"pt","trait":"Episodic memory","cell":"microglia","lpp":-4,"fdr":0.422},
{"kind":"pt","trait":"Episodic memory","cell":"microglia","lpp":-3.5,"fdr":0.169},
{"kind":"pt","trait":"Episodic memory","cell":"microglia","lpp":-3,"fdr":0.0791},
{"kind":"pt","trait":"Episodic memory","cell":"microglia","lpp":-2.5,"fdr":0.04},
{"kind":"pt","trait":"Episodic memory","cell":"microglia","lpp":-2,"fdr":0.0219},
{"kind":"pt","trait":"Episodic memory","cell":"microglia","lpp":-1.5,"fdr":0.0126},
{"kind":"pt","trait":"Episodic memory","cell":"microglia","lpp":-1,"fdr":0.00832},
{"kind":"pt","trait":"Episodic memory","cell":"microglia","lpp":-0.5,"fdr":0.00624},
{"kind":"pt","trait":"Episodic memory","cell":"microglia","lpp":0,"fdr":0.0044},
{"kind":"pt","trait":"Episodic memory","cell":"microglia","lpp":0.5,"fdr":0.00342},
{"kind":"pt","trait":"Episodic memory","cell":"microglia","lpp":1,"fdr":0.00256},
{"kind":"pt","trait":"Episodic memory","cell":"microglia","lpp":1.5,"fdr":0.00197},
{"kind":"pt","trait":"Episodic memory","cell":"microglia","lpp":2,"fdr":0.00141},
{"kind":"pt","trait":"Episodic memory","cell":"microglia","lpp":2.5,"fdr":0.00108},
{"kind":"pt","trait":"Episodic memory","cell":"microglia","lpp":3,"fdr":0.000811},
{"kind":"pt","trait":"Episodic memory","cell":"microglia","lpp":3.5,"fdr":0.000548},
{"kind":"pt","trait":"Episodic memory","cell":"microglia","lpp":4,"fdr":0.0004},
{"kind":"pt","trait":"Episodic memory","cell":"microglia","lpp":4.5,"fdr":0.000308},
{"kind":"pt","trait":"Episodic memory","cell":"microglia","lpp":5,"fdr":0.000197},
{"kind":"pt","trait":"Episodic memory","cell":"microglia","lpp":5.5,"fdr":0.000152},
{"kind":"pt","trait":"Episodic memory","cell":"microglia","lpp":6,"fdr":0.0000577},
{"kind":"pt","trait":"Episodic memory","cell":"oligodendrocytes","lpp":-4.5,"fdr":1},
{"kind":"pt","trait":"Episodic memory","cell":"oligodendrocytes","lpp":-4,"fdr":0.37},
{"kind":"pt","trait":"Episodic memory","cell":"oligodendrocytes","lpp":-3.5,"fdr":0.117},
{"kind":"pt","trait":"Episodic memory","cell":"oligodendrocytes","lpp":-3,"fdr":0.0411},
{"kind":"pt","trait":"Episodic memory","cell":"oligodendrocytes","lpp":-2.5,"fdr":0.0141},
{"kind":"pt","trait":"Episodic memory","cell":"oligodendrocytes","lpp":-2,"fdr":0.0052},
{"kind":"pt","trait":"Episodic memory","cell":"oligodendrocytes","lpp":-1.5,"fdr":0.00231},
{"kind":"pt","trait":"Episodic memory","cell":"oligodendrocytes","lpp":-1,"fdr":0.00133},
{"kind":"pt","trait":"Episodic memory","cell":"oligodendrocytes","lpp":-0.5,"fdr":0.000925},
{"kind":"pt","trait":"Episodic memory","cell":"oligodendrocytes","lpp":0,"fdr":0.00071},
{"kind":"pt","trait":"Episodic memory","cell":"oligodendrocytes","lpp":0.5,"fdr":0.000624},
{"kind":"pt","trait":"Episodic memory","cell":"oligodendrocytes","lpp":1,"fdr":0.000481},
{"kind":"pt","trait":"Episodic memory","cell":"oligodendrocytes","lpp":1.5,"fdr":0.000333},
{"kind":"pt","trait":"Episodic memory","cell":"oligodendrocytes","lpp":2,"fdr":0.000263},
{"kind":"pt","trait":"Episodic memory","cell":"oligodendrocytes","lpp":2.5,"fdr":0.00013},
{"kind":"pt","trait":"Episodic memory","cell":"oligodendrocytes","lpp":3,"fdr":0.0000855},
{"kind":"pt","trait":"Episodic memory","cell":"oligodendrocytes","lpp":5,"fdr":0.0000577},
{"kind":"pt","trait":"Episodic memory","cell":"oligodendrocytes","lpp":5.5,"fdr":0.0000422},
{"kind":"pt","trait":"Episodic memory","cell":"oligodendrocytes","lpp":6,"fdr":0.0000144},
{"kind":"pt","trait":"Episodic memory","cell":"oligodendrocyte progenitor cells","lpp":-4.5,"fdr":1},
{"kind":"pt","trait":"Episodic memory","cell":"oligodendrocyte progenitor cells","lpp":-4,"fdr":0.38},
{"kind":"pt","trait":"Episodic memory","cell":"oligodendrocyte progenitor cells","lpp":-3.5,"fdr":0.12},
{"kind":"pt","trait":"Episodic memory","cell":"oligodendrocyte progenitor cells","lpp":-3,"fdr":0.0411},
{"kind":"pt","trait":"Episodic memory","cell":"oligodendrocyte progenitor cells","lpp":-2.5,"fdr":0.013},
{"kind":"pt","trait":"Episodic memory","cell":"oligodendrocyte progenitor cells","lpp":-2,"fdr":0.00468},
{"kind":"pt","trait":"Episodic memory","cell":"oligodendrocyte progenitor cells","lpp":-1.5,"fdr":0.00164},
{"kind":"pt","trait":"Episodic memory","cell":"oligodendrocyte progenitor cells","lpp":-1,"fdr":0.000925},
{"kind":"pt","trait":"Episodic memory","cell":"oligodendrocyte progenitor cells","lpp":-0.5,"fdr":0.000456},
{"kind":"pt","trait":"Episodic memory","cell":"oligodendrocyte progenitor cells","lpp":0,"fdr":0.00025},
{"kind":"pt","trait":"Episodic memory","cell":"oligodendrocyte progenitor cells","lpp":0.5,"fdr":0.000187},
{"kind":"pt","trait":"Episodic memory","cell":"oligodendrocyte progenitor cells","lpp":1,"fdr":0.000156},
{"kind":"pt","trait":"Episodic memory","cell":"oligodendrocyte progenitor cells","lpp":1.5,"fdr":0.0000855},
{"kind":"pt","trait":"Episodic memory","cell":"oligodendrocyte progenitor cells","lpp":2.5,"fdr":0.0000577},
{"kind":"pt","trait":"Episodic memory","cell":"oligodendrocyte progenitor cells","lpp":3,"fdr":0.0000285},
{"kind":"pt","trait":"Episodic memory","cell":"oligodendrocyte progenitor cells","lpp":7,"fdr":0.0000141},
{"kind":"lab","trait":"Amyloid-beta","cell":"astrocytes","lpp":4.43,"fdr":0.00277,"txt":"5.5e−02%"},
{"kind":"lab","trait":"Amyloid-beta","cell":"pericytes / endothelial cells","lpp":4.4,"fdr":0.00277,"txt":"5.8e−02%"},
{"kind":"lab","trait":"Amyloid-beta","cell":"excitatory neurons","lpp":4.43,"fdr":0.00257,"txt":"3.4e−02%"},
{"kind":"lab","trait":"Amyloid-beta","cell":"inhibitory neurons","lpp":4.43,"fdr":0.00269,"txt":"3.7e−02%"},
{"kind":"lab","trait":"Amyloid-beta","cell":"microglia","lpp":4.46,"fdr":0.00333,"txt":"5.0e−02%"},
{"kind":"lab","trait":"Amyloid-beta","cell":"oligodendrocytes","lpp":3.89,"fdr":0.00333,"txt":"5.9e−02%"},
{"kind":"lab","trait":"Amyloid-beta","cell":"oligodendrocyte progenitor cells","lpp":5.0,"fdr":0.0003,"txt":"3.1e−02%"},
{"kind":"lab","trait":"Neurofibrillary tangles","cell":"astrocytes","lpp":4.43,"fdr":0.00263,"txt":"8.5e−02%"},
{"kind":"lab","trait":"Neurofibrillary tangles","cell":"pericytes / endothelial cells","lpp":4.4,"fdr":0.00263,"txt":"4.0e−02%"},
{"kind":"lab","trait":"Neurofibrillary tangles","cell":"excitatory neurons","lpp":4.43,"fdr":0.00324,"txt":"6.5e−02%"},
{"kind":"lab","trait":"Neurofibrillary tangles","cell":"inhibitory neurons","lpp":4.43,"fdr":0.00316,"txt":"2.1e−01%"},
{"kind":"lab","trait":"Neurofibrillary tangles","cell":"microglia","lpp":4.46,"fdr":0.00285,"txt":"7.1e−02%"},
{"kind":"lab","trait":"Neurofibrillary tangles","cell":"oligodendrocytes","lpp":4.19,"fdr":0.00285,"txt":"6.4e−02%"},
{"kind":"lab","trait":"Neurofibrillary tangles","cell":"oligodendrocyte progenitor cells","lpp":4.16,"fdr":0.00263,"txt":"2.4e−02%"},
{"kind":"lab","trait":"Episodic memory","cell":"astrocytes","lpp":4.16,"fdr":0.00257,"txt":"9.3e−02%"},
{"kind":"lab","trait":"Episodic memory","cell":"pericytes / endothelial cells","lpp":4.4,"fdr":0.003,"txt":"4.4e−02%"},
{"kind":"lab","trait":"Episodic memory","cell":"excitatory neurons","lpp":4.16,"fdr":0.00277,"txt":"4.1e−02%"},
{"kind":"lab","trait":"Episodic memory","cell":"inhibitory neurons","lpp":4.13,"fdr":0.00257,"txt":"4.7e−02%"},
{"kind":"lab","trait":"Episodic memory","cell":"microglia","lpp":4.46,"fdr":0.0308,"txt":"4.4e−01%"},
{"kind":"lab","trait":"Episodic memory","cell":"oligodendrocytes","lpp":4.49,"fdr":0.003,"txt":"7.1e−02%"},
{"kind":"lab","trait":"Episodic memory","cell":"oligodendrocyte progenitor cells","lpp":4.43,"fdr":0.00263,"txt":"2.5e−02%"}
]},
"facet": {
  "row": {"field": "trait", "type": "nominal", "sort": ["Amyloid-beta", "Neurofibrillary tangles", "Episodic memory"], "title": "False Discovery Rate",
    "header": {"titleOrient": "left", "labelOrient": "right", "labelAngle": 90, "labelPadding": 18, "labelFontSize": 12.5, "labelColor": "#262626", "titleFontSize": 17, "titleFontWeight": "normal", "titleColor": "black", "titlePadding": -5}},
  "column": {"field": "cell", "type": "nominal", "sort": ["astrocytes", "pericytes / endothelial cells", "excitatory neurons", "inhibitory neurons", "microglia", "oligodendrocytes", "oligodendrocyte progenitor cells"], "title": "Posterior Probability",
    "header": {"titleOrient": "bottom", "labelOrient": "top", "labelExpr": "datum.value == 'pericytes / endothelial cells' ? ['pericytes / endothelial', '\u200b', 'cells'] : datum.value == 'oligodendrocyte progenitor cells' ? ['oligodendrocyte', '\u200b', 'progenitor cells'] : ['\u200b', datum.value, '\u200b']", "labelLineHeight": 7, "labelPadding": 7, "labelFontSize": 13, "labelColor": "#262626", "titleFontSize": 17, "titleFontWeight": "normal", "titleColor": "black", "titlePadding": -4}}
},
"spacing": {"row": 11, "column": 10.8},
"spec": {
  "width": 148,
  "height": 157,
  "layer": [
    {"transform": [{"filter": "datum.kind == 'lab'"}], "mark": {"type": "rule", "color": "#ff0000", "strokeWidth": 0.8, "strokeDash": [3, 3]}, "encoding": {"x": {"datum": 0}}},
    {"transform": [{"filter": "datum.kind == 'pt'"}], "mark": {"type": "circle", "size": 24, "color": "black", "opacity": 1},
     "encoding": {
       "x": {"field": "lpp", "type": "quantitative", "scale": {"domain": [-5.6, 7.6], "nice": false, "zero": false},
         "axis": {"title": null, "values": [-5, -2.5, 0, 2.5, 5, 7.5], "tickCount": 12, "labelExpr": "datum.value == -5 ? '6.7e−03' : datum.value == -2.5 ? '7.6e−02' : datum.value == 0 ? '5.0e−01' : datum.value == 2.5 ? '9.2e−01' : datum.value == 5 ? '9.9e−01' : '1.0e+00'", "labelOverlap": false, "labelFontSize": 12.3, "labelAngle": 270}},
       "y": {"field": "fdr", "type": "quantitative", "scale": {"type": "log", "domain": [0.0000078, 1.75], "nice": false},
         "axis": {"title": null, "values": [1, 0.1, 0.01, 0.001, 0.0001], "tickCount": 12, "labelExpr": "datum.value > 0.5 ? '1e+00' : datum.value > 0.05 ? '1e−01' : datum.value > 0.005 ? '1e−02' : datum.value > 0.0005 ? '1e−03' : '1e−04'", "labelOverlap": false}}
     }},
    {"transform": [{"filter": "datum.kind == 'lab'"}], "mark": {"type": "text", "fontSize": 18.8, "color": "#1f1f9f", "align": "center", "baseline": "middle"},
     "encoding": {"x": {"field": "lpp", "type": "quantitative"}, "y": {"field": "fdr", "type": "quantitative"}, "text": {"field": "txt"}}},
    {"transform": [{"filter": "datum.kind == 'lab' && datum.cell == 'astrocytes'"}], "mark": {"type": "rule", "color": "#333333", "strokeWidth": 1.3},
     "encoding": {"x": {"datum": -5.6}, "y": {"datum": 1}, "y2": {"datum": 0.0001}}},
    {"transform": [{"filter": "datum.kind == 'lab' && datum.trait == 'Episodic memory'"}], "mark": {"type": "rule", "color": "#333333", "strokeWidth": 1.3, "yOffset": 1},
     "encoding": {"x": {"datum": -5}, "x2": {"datum": 7.5}, "y": {"datum": 0.0000078}}}
  ]
},
"config": {
  "font": "Liberation Sans",
  "view": {"fill": "#f2f2f2", "stroke": null},
  "axis": {"labelOverlap": false},
  "axisX": {"labelAngle": 270, "grid": false, "domain": false, "ticks": true, "tickSize": 4, "tickColor": "#333333", "tickWidth": 1, "labelFontSize": 12.3, "labelColor": "#4d4d4d", "labelPadding": 2, "labelFlush": false, "labelOverlap": false, "labelBound": false},
  "axisY": {"grid": true, "gridColor": "#1a1a1a", "gridWidth": 1, "domain": false, "ticks": true, "tickSize": 4, "tickColor": "#333333", "tickWidth": 1, "labelFontSize": 11.5, "labelColor": "#4d4d4d", "labelPadding": 1.5, "labelFlush": false, "labelOverlap": false}
}
}
